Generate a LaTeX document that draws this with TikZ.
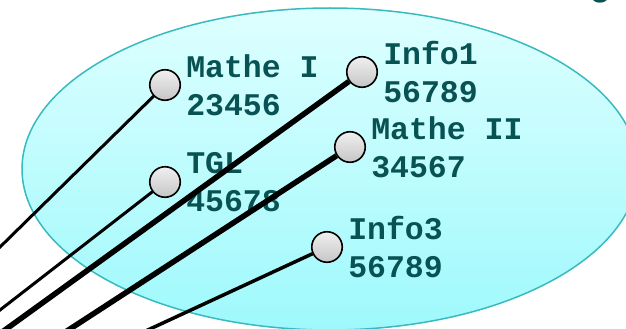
\documentclass[tikz,border=0pt]{standalone}
\usepackage{fontspec}
\setmonofont{Liberation Mono}
\usepackage{xcolor}
\usetikzlibrary{positioning, math}
\definecolor{setfill1}{RGB}{222,255,255}
\definecolor{setfill2}{RGB}{158,249,252}
\definecolor{setrim}{RGB}{56,186,192}
\definecolor{labelteal}{RGB}{8,82,84}
\tikzset{
  elem/.style={circle, draw, line width=1.6pt, minimum size=30.5pt, inner sep=0pt,
    top color=gray!12, bottom color=gray!45},
  elemlabel/.style={right=5pt of #1, align=left, inner sep=0pt, text=labelteal,
    font=\fontsize{31.5}{38}\selectfont\ttfamily\bfseries},
  thinlink/.style={line width=3pt},
  thicklink/.style={line width=5.5pt}
}
\begin{document}
\begin{tikzpicture}[x=1pt, y=-1pt]
\tikzmath{
\cx=330; \cy=169;
\rx=308; \ry=161;
}
\useasboundingbox (0,0) rectangle (626,329);

\shade[top color=setfill1, bottom color=setfill2] (\cx,\cy) ellipse ({\rx} and {\ry});
\draw[setrim, line width=1.5pt] (\cx,\cy) ellipse ({\rx} and {\ry});

\node[anchor=base west, text=labelteal, font=\fontsize{36}{40}\selectfont\ttfamily\bfseries] (title) at (586,-4) {g};

\node[elem] (matheI) at (165,85) {};
\node[elem] (infoI) at (362,72) {};
\node[elem] (tgl) at (165,182) {};
\node[elem] (matheII) at (350,147) {};
\node[elem] (infoIII) at (327,247) {};

\node[elemlabel=matheI] (matheIlbl) {Mathe I\\23456};
\node[elemlabel=infoI] (infoIlbl) {Info1\\56789};
\node[elemlabel=tgl] (tgllbl) {TGL\\45678};
\node[elemlabel=matheII] (matheIIlbl) {Mathe II\\34567};
\node[elemlabel=infoIII] (infoIIIlbl) {Info3\\56789};

\coordinate (matheIend) at (-30,276.5);
\coordinate (tglend) at (-30,333.3);
\coordinate (infoIend) at (-20,348);
\coordinate (matheIIend) at (40,348.5);
\coordinate (infoIIIend) at (110,347.5);

\draw[thinlink] (matheI) -- (matheIend);
\draw[thinlink] (tgl) -- (tglend);
\draw[thicklink] (infoI) -- (infoIend);
\draw[thicklink] (matheII) -- (matheIIend);
\draw[thinlink, line width=3.5pt] (infoIII) -- (infoIIIend);

\end{tikzpicture}
\end{document}
